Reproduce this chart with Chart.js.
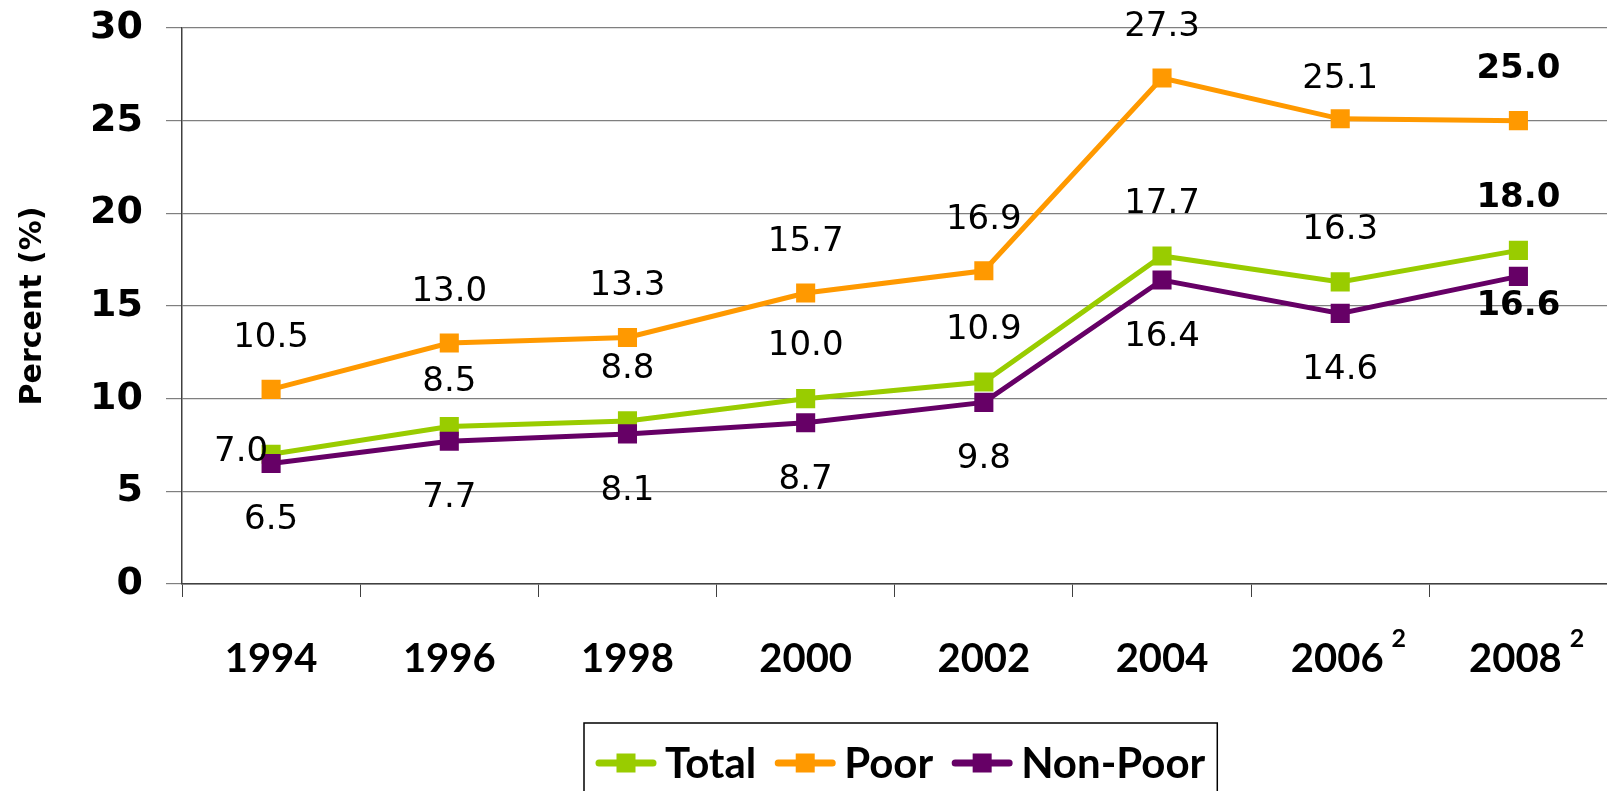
<!DOCTYPE html>
<html><head><meta charset="utf-8">
<script src="https://cdn.jsdelivr.net/npm/chart.js@4"></script>
<style>
html,body{margin:0;padding:0;overflow:hidden;background:#fff}
#wrap{position:absolute;left:0;top:0;width:1621px;height:791px}
</style></head><body>
<div id="wrap"><canvas id="c"></canvas></div>
<script>
// ---- data ----
const years = ['1994', '1996', '1998', '2000', '2002', '2004', '2006', '2008'];
const yearNotes = ['', '', '', '', '', '', '2', '2'];
const total = [7.0, 8.5, 8.8, 10.0, 10.9, 17.7, 16.3, 18.0];
const poor = [10.5, 13.0, 13.3, 15.7, 16.9, 27.3, 25.1, 25.0];
const nonPoor = [6.5, 7.7, 8.1, 8.7, 9.8, 16.4, 14.6, 16.6];
const yTickValues = [0, 5, 10, 15, 20, 25, 30];
const seriesNames = ['Total', 'Poor', 'Non-Poor'];
const seriesColors = ['#99CC00', '#FF9900', '#660066'];

// label placement relative to each point: per-series default, plus a few exceptions
const labelDy = [-52, -51, 57];
const labelExceptions = { '0-0': {dx: -30, dy: -2}, '0-1': {dx: 0, dy: -44}, '1-6': {dx: 0, dy: -40}, '2-7': {dx: 0, dy: 30} };

const labelPlugin = {
  id: 'pointLabels',
  afterDatasetsDraw(chart) {
    const ctx = chart.ctx;
    ctx.save();
    ctx.fillStyle = '#000';
    ctx.textAlign = 'center';
    ctx.textBaseline = 'middle';
    chart.data.datasets.forEach((ds, di) => {
      const meta = chart.getDatasetMeta(di);
      meta.data.forEach((pt, i) => {
        const ex = labelExceptions[di + '-' + i] || {dx: 0, dy: labelDy[di]};
        const last = i === ds.data.length - 1;
        ctx.font = (last ? 'bold ' : '') + '34px "DejaVu Sans"';
        ctx.fillText(ds.data[i].toFixed(1), pt.x + ex.dx, pt.y + ex.dy);
      });
    });
    ctx.restore();
  }
};

const xLabelPlugin = {
  id: 'xLabels',
  afterDraw(chart) {
    const ctx = chart.ctx;
    const xs = chart.scales.x;
    const cy = xs.top + 75;
    ctx.save();
    ctx.fillStyle = '#000';
    ctx.textBaseline = 'middle';
    years.forEach((yr, i) => {
      const x = xs.getPixelForValue(i);
      ctx.font = 'bold 40px Lato';
      const w = ctx.measureText(yr).width;
      const note = yearNotes[i];
      const left = x - w / 2 - (note ? 3 : 0);
      ctx.textAlign = 'left';
      ctx.fillText(yr, left, cy);
      if (note) {
        ctx.font = 'bold 25px Lato';
        ctx.textBaseline = 'alphabetic';
        ctx.fillText(note, left + w + 8, cy - 12);
        ctx.textBaseline = 'middle';
      }
    });
    ctx.restore();
  }
};

const legendPlugin = {
  id: 'boxLegend',
  afterDraw(chart) {
    const ctx = chart.ctx;
    ctx.save();
    ctx.font = 'bold 42px Lato';
    ctx.textBaseline = 'middle';
    const left = 584, top = 723, cy = 763;
    let x = left + 12;
    const parts = [];
    chart.data.datasets.forEach((ds) => {
      const w = ctx.measureText(ds.label).width;
      parts.push({x, w, ds});
      x += 60 + 9 + w + 19;
    });
    const right = x - 19 + 12;
    ctx.strokeStyle = '#000';
    ctx.lineWidth = 1.5;
    ctx.strokeRect(left, top, right - left, 100);
    parts.forEach(p => {
      ctx.strokeStyle = p.ds.borderColor;
      ctx.lineWidth = 7;
      ctx.lineCap = 'round';
      ctx.beginPath();
      ctx.moveTo(p.x + 3, cy);
      ctx.lineTo(p.x + 57, cy);
      ctx.stroke();
      ctx.fillStyle = p.ds.borderColor;
      ctx.fillRect(p.x + 30 - 9.5, cy - 9.5, 19, 19);
      ctx.fillStyle = '#000';
      ctx.fillText(p.ds.label, p.x + 69, cy + 1);
    });
    ctx.restore();
  }
};

const series = [total, poor, nonPoor];
new Chart(document.getElementById('c'), {
  type: 'line',
  data: {
    labels: years,
    datasets: series.map((d, i) => ({
      label: seriesNames[i],
      data: d,
      borderColor: seriesColors[i],
      backgroundColor: seriesColors[i],
      borderWidth: 5,
      pointStyle: 'rect',
      pointRadius: 13.5,
      pointHoverRadius: 13.5,
      pointBorderWidth: 0,
      tension: 0,
      order: 3 - i
    }))
  },
  options: {
    responsive: true,
    maintainAspectRatio: false,
    animation: false,
    events: [],
    layout: { padding: { top: 28, right: 0, bottom: 107, left: 0 } },
    plugins: { legend: { display: false }, tooltip: { enabled: false } },
    scales: {
      x: {
        offset: true,
        grid: { offset: true, drawOnChartArea: false, drawTicks: true, tickLength: 13, color: '#404040', lineWidth: 1 },
        border: { display: true, color: '#404040', width: 1.5 },
        ticks: { display: false },
        afterFit(s) { s.height = 100; }
      },
      y: {
        min: 0, max: 30,
        afterBuildTicks(s) { s.ticks = yTickValues.map(v => ({ value: v })); },
        grid: { color: '#7f7f7f', lineWidth: 1.2, tickLength: 16, drawTicks: true },
        border: { display: true, color: '#404040', width: 1.5 },
        ticks: { font: { family: 'DejaVu Sans', weight: 'bold', size: 38, lineHeight: 0.2 }, color: '#000', padding: 23 },
        title: { display: true, text: 'Percent (%)', font: { family: 'DejaVu Sans', weight: 'bold', size: 30, lineHeight: 1.2 }, color: '#000', padding: { top: 15, bottom: 0 } },
        afterFit(s) { s.width = 182; }
      }
    }
  },
  plugins: [labelPlugin, xLabelPlugin, legendPlugin]
});
</script>
</body></html>
